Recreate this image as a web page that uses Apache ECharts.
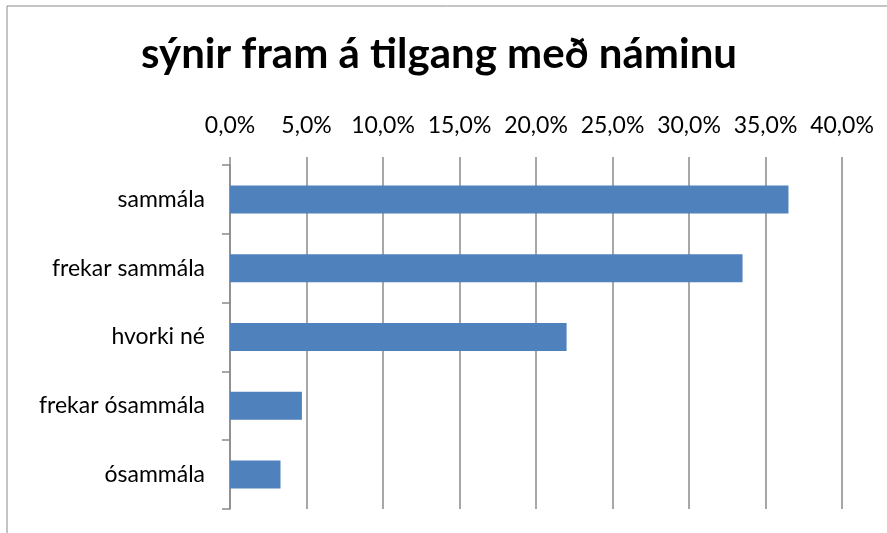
<!DOCTYPE html>
<html>
<head>
<meta charset="utf-8">
<script src="https://cdn.jsdelivr.net/npm/echarts@6/dist/echarts.min.js"></script>
<style>
  html, body { margin: 0; padding: 0; background: #fff; }
  #chart { width: 887px; height: 533px; }
</style>
</head>
<body>
<div id="chart"></div>
<script>
var titleText = 'sýnir fram á tilgang með náminu';
var categories = ['sammála', 'frekar sammála', 'hvorki né', 'frekar ósammála', 'ósammála'];
var values = [36.5, 33.5, 22.0, 4.7, 3.3];

var myChart = echarts.init(document.getElementById('chart'));
var gray = '#8a8a8a';

var option = {
    animation: false,
    textStyle: { fontFamily: 'Lato' },
    title: {
        text: titleText,
        left: 434,
        top: 28,
        textAlign: 'center',
        textStyle: { fontFamily: 'Lato', fontWeight: 'bold', fontSize: 42, color: '#000' }
    },
    graphic: [{
        type: 'rect',
        shape: { x: 7, y: 6, width: 1000, height: 1000 },
        style: { fill: 'none', stroke: gray, lineWidth: 1 },
        silent: true
    }],
    grid: { left: 230, right: 45, top: 165, bottom: 24 },
    xAxis: {
        type: 'value',
        position: 'top',
        min: 0,
        max: 40,
        interval: 5,
        axisLine: { show: false },
        axisTick: { show: true, length: 8, lineStyle: { color: gray, width: 1.5 } },
        splitLine: { show: true, lineStyle: { color: gray, width: 1.5 } },
        axisLabel: {
            margin: 28,
            fontSize: 23,
            color: '#000',
            formatter: function (v) { return v.toFixed(1).replace('.', ',') + '%'; }
        }
    },
    yAxis: {
        type: 'category',
        inverse: true,
        data: categories,
        axisLine: { show: true, lineStyle: { color: gray, width: 1.5 } },
        axisTick: { show: true, length: 8, lineStyle: { color: gray, width: 1.5 } },
        axisLabel: { margin: 25, fontSize: 23, color: '#000' }
    },
    series: [{
        type: 'bar',
        data: values,
        barWidth: 28,
        itemStyle: { color: '#4F81BD' }
    }]
};

myChart.setOption(option);
</script>
</body>
</html>
